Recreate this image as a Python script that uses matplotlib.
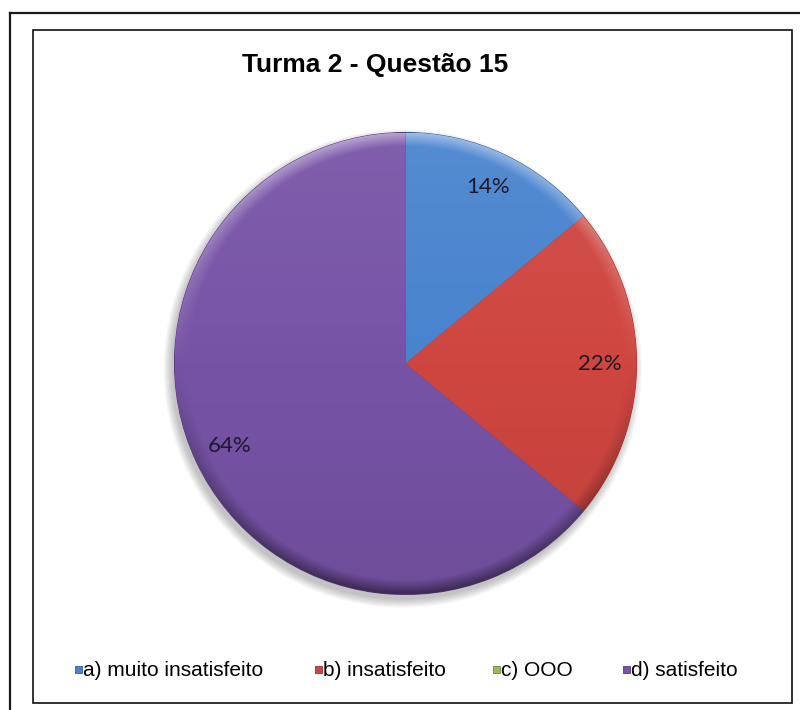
import numpy as np
import matplotlib
matplotlib.use("Agg")
import matplotlib.pyplot as plt
from matplotlib.patches import Rectangle, Circle
from matplotlib.lines import Line2D
from matplotlib.colors import to_rgb

# ---- data ----
title = "Turma 2 - Questão 15"
categories = ["a) muito insatisfeito", "b) insatisfeito", "c) OOO", "d) satisfeito"]
values = [14, 22, 0, 64]
colors = ["#4883CE", "#CF4640", "#9BBB59", "#7753A6"]

W, H = 800, 710
fig = plt.figure(figsize=(W / 100, H / 100), dpi=100)
fig.patch.set_facecolor("white")


def fx(x):
    return x / W


def fy(y):
    return (H - y) / H


# outer and inner frames
fig.add_artist(Line2D([fx(10), fx(10)], [fy(13), fy(720)], color="#1a1a1a", lw=1.6))
fig.add_artist(Line2D([fx(10), fx(810)], [fy(13), fy(13)], color="#1a1a1a", lw=1.6))
fig.add_artist(Rectangle((fx(33), fy(703)), fx(792) - fx(33), fy(30) - fy(703),
                         fill=False, edgecolor="#111111", lw=1.2))

# title
fig.text(fx(375), fy(72), title, ha="center", va="baseline",
         fontsize=19, fontweight="bold", family="Liberation Sans", color="#000000")

# pie axes: center (405.5, 363.5) px, radius 231 px
cx, cy, R = 405.5, 363.5, 231
ax = fig.add_axes([fx(cx - R), fy(cy + R), 2 * R / W, 2 * R / H])

# soft shadow
for k in range(8):
    ax.add_patch(Circle((-0.012, -0.022), 1.0 + 0.005 * k, facecolor="#000000",
                        alpha=0.03, edgecolor="none", zorder=0, clip_on=False))


def fmt(p):
    return "" if p < 0.5 else f"{p:.0f}%"


wedges, texts, autotexts = ax.pie(
    values, colors=colors, startangle=90, counterclock=False, radius=1.0,
    autopct=fmt, pctdistance=0.843,
    wedgeprops=dict(linewidth=0),
    textprops=dict(fontsize=16, family="Lato", color="#1a1a2a"))
ax.set_xlim(-1, 1)
ax.set_ylim(-1, 1)
ax.set_aspect("equal")
ax.axis("off")

# bevel-like shading clipped to each wedge
N = 700
g = np.linspace(-1, 1, N)
X, Y = np.meshgrid(g, g[::-1])
Rr = np.hypot(X, Y)
S = Y / np.maximum(Rr, 1e-6)
rim = np.clip((Rr - 0.94) / 0.06, 0, 1)
T = rim * 0.42 * S + 0.07 * Y
for w, c, v in zip(wedges, colors, values):
    if v == 0:
        w.set_visible(False)
        continue
    base = np.array(to_rgb(c))
    img = np.empty((N, N, 3))
    for i in range(3):
        b = base[i]
        img[..., i] = np.where(T > 0, b + (1 - b) * T, b * (1 + T))
    im = ax.imshow(np.clip(img, 0, 1), extent=[-1, 1, -1, 1], zorder=1.5,
                   interpolation="bilinear")
    im.set_clip_path(w)
    w.set_edgecolor(tuple(base * 0.75))
    w.set_linewidth(0.8)
    w.set_zorder(1)
for t in autotexts:
    t.set_zorder(3)

# legend
sq_x = [75, 315, 493, 623]
ly = 669
for cat, c, x in zip(categories, colors, sq_x):
    fig.add_artist(Rectangle((fx(x), fy(ly + 3.5)), 7 / W, 7 / H,
                             facecolor=c, edgecolor=tuple(np.array(to_rgb(c)) * 0.7), lw=0.6))
    fig.text(fx(x + 8), fy(ly), cat, ha="left", va="center_baseline",
             fontsize=15, family="Liberation Sans", color="#000000")

fig.savefig("out.png", dpi=100, facecolor="white")
